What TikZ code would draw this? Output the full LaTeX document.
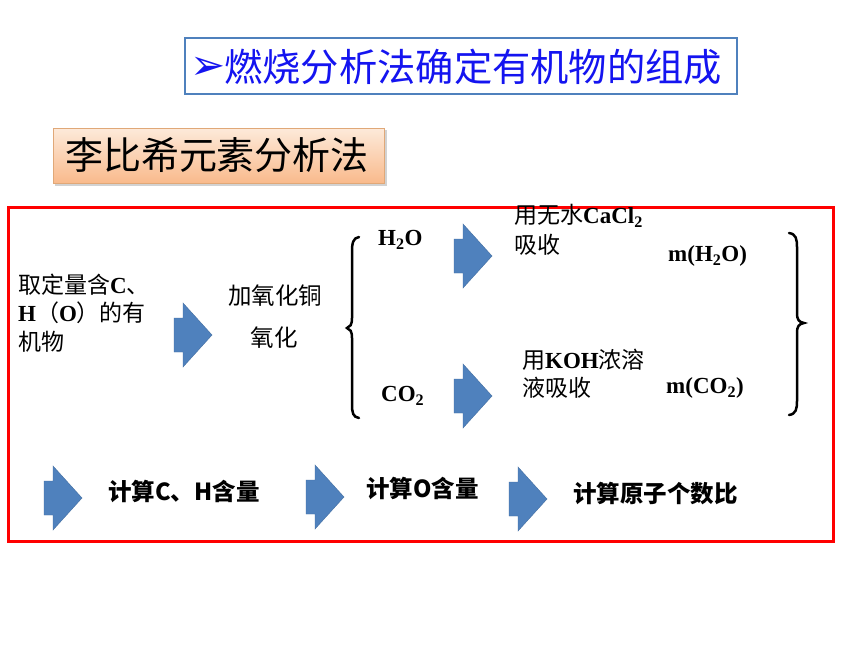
\documentclass[tikz,border=0pt]{standalone}
\usepackage{fontspec}
\newfontfamily\cjk{Noto Sans CJK SC}
\newfontfamily\tnr{Liberation Serif}
\newfontfamily\djv{DejaVu Sans}
\definecolor{arrowblue}{HTML}{4F81BD}
\definecolor{frameblue}{HTML}{4F81BD}
\definecolor{titleblue}{HTML}{1414F0}
\definecolor{peachtop}{HTML}{FDEADA}
\definecolor{peachbot}{HTML}{F9BA8C}
\definecolor{peachline}{HTML}{E0A878}
\newcommand\latb[1]{{\tnr\bfseries #1}}
\tikzset{
  barrow/.pic={\fill[arrowblue,draw=arrowblue!85!black,line width=0.4]
     (0,-17) -- (9,-17) -- (9,-32) -- (38,0) -- (9,32) -- (9,17) -- (0,17) -- cycle;},
  zh/.style={font=\cjk\fontsize{23}{26}\selectfont, inner sep=0, text=black},
  zhb/.style={font=\cjk\bfseries\fontsize{23.5}{26}\selectfont, inner sep=0, text=black},
  lat/.style={font=\tnr\bfseries\fontsize{23}{26}\selectfont, inner sep=0, text=black},
  bracestyle/.style={line width=2.5, black, line cap=round},
}
\begin{document}
\begin{tikzpicture}[x=1pt,y=-1pt]
\useasboundingbox (0,0) rectangle (860,645);
\fill[white] (0,0) rectangle (860,645);

% title
\draw[frameblue, line width=2, fill=white] (185,38) rectangle (737,94);
\node[inner sep=0, anchor=west, text=titleblue, font=\djv\fontsize{42}{44}\selectfont] (tarrow) at (190,68) {➢};
\node[inner sep=0, anchor=west, text=titleblue, font=\cjk\fontsize{38.3}{42}\selectfont] (title) at (224,67)
  {燃烧分析法确定有机物的组成};

% subtitle
\fill[gray!35] (55,130) rectangle (387,186);
\shade[top color=peachtop, bottom color=peachbot, draw=peachline, line width=0.8] (53,128) rectangle (384,183);
\node[inner sep=0, font=\cjk\fontsize{38}{42}\selectfont] (sub) at (217,155) {李比希元素分析法};

% red frame
\draw[red, line width=3] (8,207) rectangle (833,541);

% left text
\node[zh, anchor=west] (l1) at (18,285) {取定量含\latb{C}、};
\node[zh, anchor=west] (l2) at (18,313) {\latb{H}（\latb{O}）的有};
\node[zh, anchor=west] (l3) at (18,342) {机物};

\pic (a1) at (174,335) {barrow};

\node[zh, font=\cjk\fontsize{23.5}{26}\selectfont] (cu1) at (275,296) {加氧化铜};
\node[zh, font=\cjk\fontsize{23.5}{26}\selectfont] (cu2) at (274,338) {氧化};

% braces
\draw[bracestyle] (359,237) .. controls (353,238) and (352,243) .. (352,252)
  -- (352,318) .. controls (352,325) and (350,327) .. (347,328)
  .. controls (350,329) and (352,331) .. (352,338)
  -- (352,404) .. controls (352,413) and (353,417) .. (359,418);
\draw[bracestyle] (789,233) .. controls (796,234) and (797,239) .. (797,247)
  -- (797,313) .. controls (797,320) and (799,322) .. (804,323)
  .. controls (799,324) and (797,326) .. (797,333)
  -- (797,401) .. controls (797,409) and (796,414) .. (789,415);

% upper branch
\node[lat, anchor=west] (h2o) at (378,240) {H\textsubscript{2}O};
\pic (a2) at (454,256) {barrow};
\node[zh, anchor=west] (ca1) at (514,216) {用无水\latb{CaCl\textsubscript{2}}};
\node[zh, anchor=west] (ca2) at (514,245) {吸收};
\node[lat, anchor=west] (mh2o) at (668,256) {m(H\textsubscript{2}O)};

% lower branch
\node[lat, anchor=west] (co2) at (381,396) {CO\textsubscript{2}};
\pic (a3) at (454,396) {barrow};
\node[zh, anchor=west] (koh1) at (522,360) {用\latb{KOH}浓溶};
\node[zh, anchor=west] (koh2) at (522,388) {液吸收};
\node[lat, anchor=west] (mco2) at (666,388) {m(CO\textsubscript{2})};

% bottom row
\pic (b1) at (44,498) {barrow};
\node[zhb, anchor=west] (c1) at (108,491) {计算C、H含量};
\pic (b2) at (306,497) {barrow};
\node[zhb, anchor=west] (c2) at (366,488) {计算O含量};
\pic (b3) at (509,499) {barrow};
\node[zhb, anchor=west] (c3) at (573,494) {计算原子个数比};
\end{tikzpicture}
\end{document}
